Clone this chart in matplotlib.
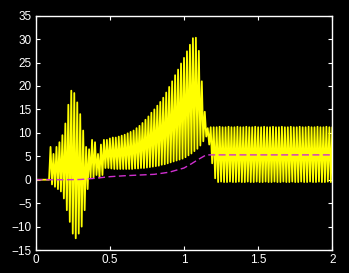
import numpy as np
import matplotlib
matplotlib.use("Agg")
import matplotlib.pyplot as plt

# Oscillation envelope samples (x step 0.02 from 0.10 to 2.00)
env_x = [round(0.10 + 0.02 * i, 2) for i in range(96)]
upper = [7, 5.5, 7, 8, 9.5, 12, 16, 19, 18.5, 16.5,
         14, 10.5, 7, 6.5, 8.5, 8, 5.5, 7.5, 8.5, 8.5,
         8.8, 9, 9, 9.2, 9.4, 9.6, 9.9, 10.2, 10.5, 11,
         11.5, 12.1, 12.8, 13.5, 14.3, 15, 15.8, 16.6, 17.5, 18.6,
         19.8, 21, 22.3, 23.5, 24.8, 26, 27.4, 28.8, 30.2, 30.3,
         27.5, 21, 14.5, 11, 11.2, 11.2, 11.2, 11.3, 11.2, 11.2,
         11.3, 11.2, 11.2, 11.3, 11.2, 11.2, 11.3, 11.2, 11.2, 11.3,
         11.2, 11.2, 11.3, 11.2, 11.2, 11.3, 11.2, 11.2, 11.3, 11.2,
         11.2, 11.3, 11.2, 11.2, 11.3, 11.2, 11.2, 11.3, 11.2, 11.2,
         11.3, 11.2, 11.2, 11.3, 11.2, 11.2]
lower = [-1, -1.5, -2, -2.5, -4, -6.5, -9, -11.5, -12.5, -11.5,
         -10, -6.5, -2, 0.5, 0.5, 1, 0.5, 1, 2.5, 2.5,
         2.4, 2.3, 2.3, 2.3, 2.3, 2.3, 2.3, 2.3, 2.4, 2.4,
         2.5, 2.5, 2.6, 2.7, 2.8, 2.9, 3.0, 3.2, 3.3, 3.5,
         3.7, 3.9, 4.1, 4.3, 4.5, 4.8, 5.2, 5.6, 6.1, 6.6,
         7.3, 8.2, 9.2, 7.5, 3.5, 0.3, -0.5, -0.4, -0.5, -0.5,
         -0.4, -0.5, -0.5, -0.4, -0.5, -0.5, -0.4, -0.5, -0.5, -0.4,
         -0.5, -0.5, -0.4, -0.5, -0.5, -0.4, -0.5, -0.5, -0.4, -0.5,
         -0.5, -0.4, -0.5, -0.5, -0.4, -0.5, -0.5, -0.4, -0.5, -0.5,
         -0.4, -0.5, -0.5, -0.4, -0.5, -0.5]

# Dashed reference curve
ref_x = [0, 0.2, 0.3, 0.4, 0.5, 0.6, 0.7, 0.8, 0.9, 1.0, 1.05, 1.1, 1.15, 1.2, 1.5, 2.0]
ref_y = [0, 0, 0.05, 0.3, 0.65, 0.85, 1.0, 1.15, 1.6, 2.5, 3.4, 4.4, 5.3, 5.3, 5.3, 5.3]

x_ticks = [0, 0.5, 1, 1.5, 2]
y_ticks = [-15, -10, -5, 0, 5, 10, 15, 20, 25, 30, 35]

# Build zig-zag: each sample peak at x, trough half a step later
zx, zy = [0.0, 0.09], [0.0, 0.0]
for x, u, l in zip(env_x, upper, lower):
    zx += [x, x + 0.01]
    zy += [u, l]

fig = plt.figure(figsize=(3.49, 2.73), dpi=100, facecolor="black")
ax = fig.add_axes([0.1023, 0.0842, 0.8499, 0.8583], facecolor="black")
ax.plot(zx, zy, color="#ffff00", lw=1.3)
ax.plot(ref_x, ref_y, color="#d030d0", lw=1.0, dashes=(5, 2.5))

ax.set_xlim(0, 2)
ax.set_ylim(-15, 35)
ax.set_xticks(x_ticks)
ax.set_xticklabels(["0", "0.5", "1", "1.5", "2"])
ax.set_yticks(y_ticks)
for s in ax.spines.values():
    s.set_color("white")
    s.set_linewidth(1.0)
ax.tick_params(direction="in", colors="white", length=3, width=0.8,
               top=True, right=True, labelsize=8.5, pad=3)
for lab in ax.get_xticklabels() + ax.get_yticklabels():
    lab.set_fontfamily("Liberation Sans")
fig.savefig("out.png", dpi=100, facecolor="black")
